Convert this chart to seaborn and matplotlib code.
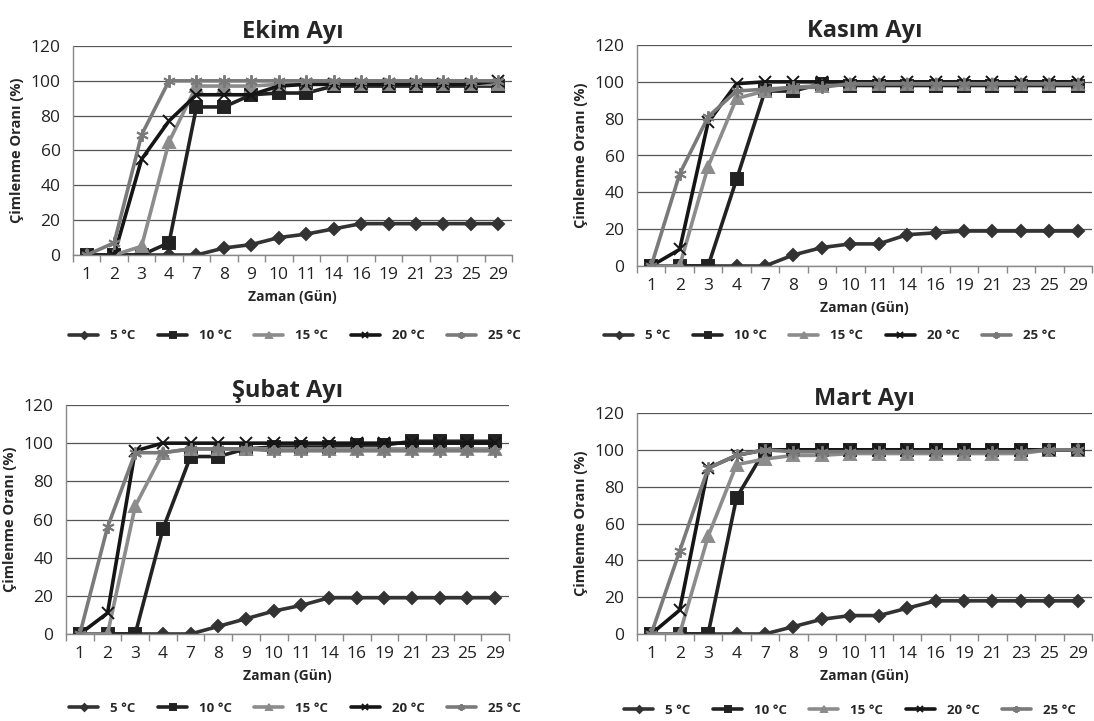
import numpy as np
import pandas as pd
import matplotlib
matplotlib.use("Agg")
import matplotlib.pyplot as plt
import seaborn as sns
from matplotlib.ticker import FixedLocator

sns.set_style("white")
plt.rcParams['font.family'] = ['Open Sans', 'DejaVu Sans']

days = ['1', '2', '3', '4', '7', '8', '9', '10', '11', '14', '16', '19', '21', '23', '25', '29']
temps = ['5 °C', '10 °C', '15 °C', '20 °C', '25 °C']

ekim_5 = [0, 0, 0, 0, 0, 4, 6, 10, 12, 15, 18, 18, 18, 18, 18, 18]
ekim_10 = [0, 0, 0, 7, 85, 85, 92, 93, 93, 97, 97, 97, 97, 97, 97, 97]
ekim_15 = [0, 0, 5, 65, 97, 97, 97, 98, 98, 98, 98, 98, 98, 98, 98, 98]
ekim_20 = [0, 0, 55, 77, 92, 92, 92, 97, 98, 98, 98, 98, 98, 98, 98, 100]
ekim_25 = [0, 7, 69, 100, 100, 100, 100, 100, 100, 100, 100, 100, 100, 100, 100, 100]

kasim_5 = [0, 0, 0, 0, 0, 6, 10, 12, 12, 17, 18, 19, 19, 19, 19, 19]
kasim_10 = [0, 0, 0, 47, 95, 95, 99, 98, 98, 98, 98, 98, 98, 98, 98, 98]
kasim_15 = [0, 0, 54, 91, 95, 97, 98, 99, 99, 99, 99, 99, 99, 99, 99, 99]
kasim_20 = [0, 9, 78, 99, 100, 100, 100, 100, 100, 100, 100, 100, 100, 100, 100, 100]
kasim_25 = [0, 50, 81, 95, 96, 97, 97, 99, 99, 99, 99, 99, 99, 99, 99, 99]

subat_5 = [0, 0, 0, 0, 0, 4, 8, 12, 15, 19, 19, 19, 19, 19, 19, 19]
subat_10 = [0, 0, 0, 55, 93, 93, 97, 98, 98, 98, 99, 99, 101, 101, 101, 101]
subat_15 = [0, 0, 67, 95, 97, 97, 97, 97, 97, 97, 97, 97, 97, 97, 97, 97]
subat_20 = [0, 11, 96, 100, 100, 100, 100, 100, 100, 100, 100, 100, 100, 100, 100, 100]
subat_25 = [0, 56, 95, 95, 97, 97, 97, 96, 96, 96, 96, 96, 96, 96, 96, 96]

mart_5 = [0, 0, 0, 0, 0, 4, 8, 10, 10, 14, 18, 18, 18, 18, 18, 18]
mart_10 = [0, 0, 0, 74, 100, 100, 100, 100, 100, 100, 100, 100, 100, 100, 100, 100]
mart_15 = [0, 0, 53, 92, 95, 97, 97, 98, 98, 98, 98, 98, 98, 98, 100, 100]
mart_20 = [0, 13, 90, 97, 100, 100, 100, 100, 100, 100, 100, 100, 100, 100, 100, 100]
mart_25 = [0, 45, 90, 97, 100, 99, 99, 99, 99, 99, 99, 99, 99, 99, 100, 100]

panels = [
    ('Ekim Ayı', [ekim_5, ekim_10, ekim_15, ekim_20, ekim_25]),
    ('Kasım Ayı', [kasim_5, kasim_10, kasim_15, kasim_20, kasim_25]),
    ('Şubat Ayı', [subat_5, subat_10, subat_15, subat_20, subat_25]),
    ('Mart Ayı', [mart_5, mart_10, mart_15, mart_20, mart_25]),
]

colors = {'5 °C': '#333333', '10 °C': '#222222', '15 °C': '#8c8c8c',
          '20 °C': '#151515', '25 °C': '#7a7a7a'}
markers = {'5 °C': 'D', '10 °C': 's', '15 °C': '^', '20 °C': 'x', '25 °C': (6, 2, 0)}
msizes = {'5 °C': 6.5, '10 °C': 8.5, '15 °C': 8.5, '20 °C': 8, '25 °C': 9}

W, H = 1094, 721
# left, right, top, bottom in pixels
boxes = [(73, 512, 46, 255), (637, 1092, 45, 266), (66, 509, 405, 634), (637, 1092, 413, 634)]
legend_xy = [(295, 336), (830, 336), (295, 708), (850, 710)]

fig = plt.figure(figsize=(W / 100, H / 100), dpi=100)

for (title, series), (l, r, t, b), (lx, ly) in zip(panels, boxes, legend_xy):
    ax = fig.add_axes([l / W, (H - b) / H, (r - l) / W, (b - t) / H])
    rows = []
    for temp, vals in zip(temps, series):
        for i, v in enumerate(vals):
            rows.append({'pos': i, 'val': v, 'temp': temp})
    df = pd.DataFrame(rows)
    for temp in temps:
        d = df[df.temp == temp]
        sns.lineplot(data=d, x='pos', y='val', ax=ax, color=colors[temp],
                     marker=markers[temp], markersize=msizes[temp],
                     markeredgecolor=colors[temp], markeredgewidth=1.4,
                     linewidth=2.6, label=temp)
    ax.set_xlim(-0.5, len(days) - 0.5)
    ax.set_ylim(0, 120)
    ax.set_yticks(range(0, 121, 20))
    ax.set_xticks(range(len(days)))
    ax.set_xticklabels(days)
    ax.xaxis.set_minor_locator(FixedLocator(np.arange(-0.5, len(days), 1)))
    ax.tick_params(axis='x', which='major', length=0, labelsize=12.5, pad=9, colors='#222222')
    ax.tick_params(axis='x', which='minor', length=5, width=1, color='#888888', direction='out', bottom=True)
    ax.tick_params(axis='y', length=5, width=1, color='#888888', labelsize=12.5, colors='#222222', pad=4)
    ax.grid(axis='y', color='#555555', linewidth=0.9)
    ax.set_axisbelow(True)
    for s in ['top', 'right']:
        ax.spines[s].set_visible(False)
    for s in ['left', 'bottom']:
        ax.spines[s].set_color('#888888')
        ax.spines[s].set_linewidth(1)
    ax.set_xlabel('Zaman (Gün)', fontsize=10, fontweight='bold', labelpad=5)
    ax.set_ylabel('Çimlenme Oranı (%)', fontsize=10.5, fontweight='bold', labelpad=5)
    ax.set_title(title, fontsize=17, fontweight='bold', pad=6)
    ax.legend(loc='center', bbox_to_anchor=((lx - l) / (r - l), (b - ly) / (b - t)),
              ncol=5, frameon=False, handlelength=2.2, columnspacing=1.7,
              markerscale=0.55, handletextpad=0.9, borderaxespad=0, borderpad=0,
              prop={'weight': 'bold', 'size': 9.5})

fig.savefig('out.png', dpi=100)
